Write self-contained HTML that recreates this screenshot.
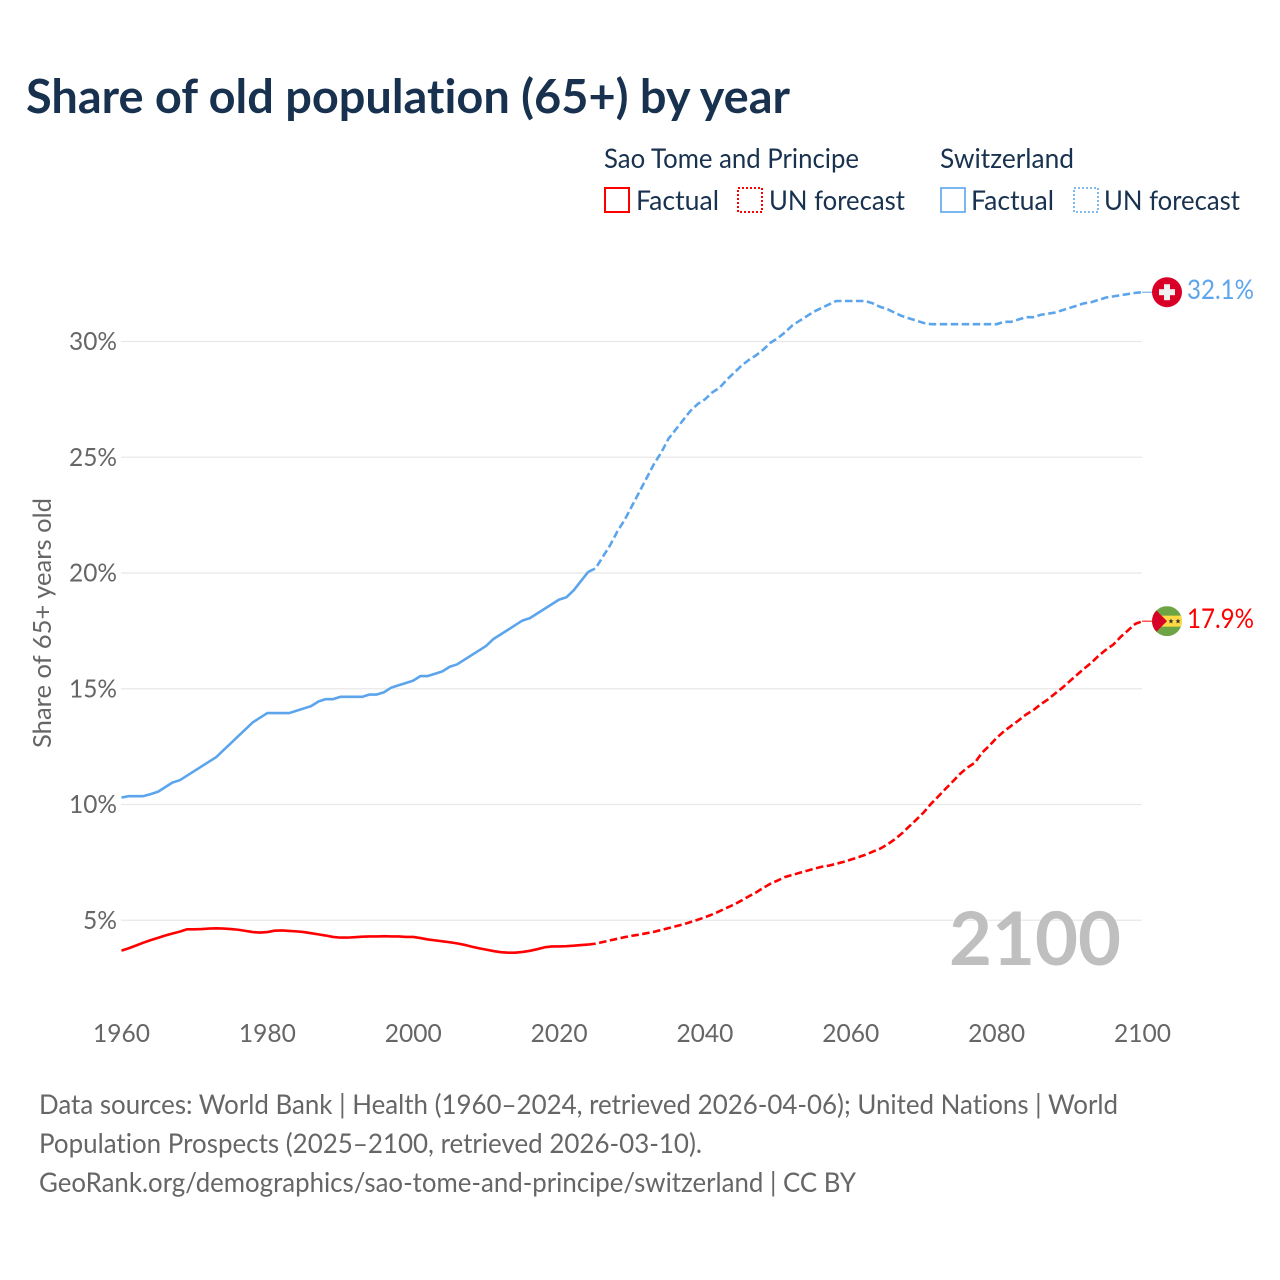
<!DOCTYPE html>
<html lang="en">
<head>
<meta charset="utf-8">
<title>Share of old population (65+) by year</title>
<style>
html,body{margin:0;padding:0;background:#fff;}
body{width:1280px;height:1280px;overflow:hidden;}
svg{display:block;}
text{font-family:"Lato","Carlito","Liberation Sans",sans-serif;font-variant-ligatures:none;}
</style>
</head>
<body>
<svg id="chart" width="1280" height="1280" viewBox="0 0 1280 1280" xmlns="http://www.w3.org/2000/svg">
  <rect width="1280" height="1280" fill="#fff"/>
  <text x="26" y="113" font-size="47" font-weight="700" fill="#17314f" textLength="764" lengthAdjust="spacingAndGlyphs">Share of old population (65+) by year</text>

  <g font-size="27" fill="#18324f">
    <text x="604" y="168" textLength="255" lengthAdjust="spacingAndGlyphs">Sao Tome and Principe</text>
    <rect x="605" y="188" width="24" height="24" fill="none" stroke="#ff0000" stroke-width="2"/>
    <text x="636" y="210" textLength="83" lengthAdjust="spacingAndGlyphs">Factual</text>
    <rect x="738" y="188" width="24" height="24" fill="none" stroke="#ff0000" stroke-width="2" stroke-dasharray="2 2"/>
    <text x="769" y="210" textLength="136" lengthAdjust="spacingAndGlyphs">UN forecast</text>
    <text x="940" y="168" textLength="134" lengthAdjust="spacingAndGlyphs">Switzerland</text>
    <rect x="941" y="188" width="24" height="24" fill="none" stroke="#5ca5ec" stroke-width="1.6"/>
    <text x="971" y="210" textLength="83" lengthAdjust="spacingAndGlyphs">Factual</text>
    <rect x="1074" y="188" width="24" height="24" fill="none" stroke="#5ca5ec" stroke-width="1.6" stroke-dasharray="2 2"/>
    <text x="1104" y="210" textLength="136" lengthAdjust="spacingAndGlyphs">UN forecast</text>
  </g>

  <g id="grid"></g>
  <g id="yticks" font-size="25.5" fill="#666666"></g>
  <g id="xticks" font-size="25.5" fill="#666666"></g>
  <text transform="translate(51 623) rotate(-90)" text-anchor="middle" font-size="25.5" fill="#666666" textLength="250" lengthAdjust="spacingAndGlyphs">Share of 65+ years old</text>
  <text x="949" y="965" font-size="74" font-weight="700" fill="#bfbfbf" textLength="172" lengthAdjust="spacingAndGlyphs">2100</text>
  <g id="series"></g>

  <g id="flag-che">
    <circle cx="0" cy="0" r="15" fill="#d80027"/>
    <rect x="-8" y="-3" width="16" height="6" fill="#f0f0f0"/>
    <rect x="-3" y="-8" width="6" height="16" fill="#f0f0f0"/>
  </g>
  <text id="label-che" x="1187" font-size="27" fill="#5ca5ec" textLength="67" lengthAdjust="spacingAndGlyphs">32.1%</text>

  <clipPath id="stp-clip"><circle cx="0" cy="0" r="15"/></clipPath>
  <g id="flag-stp">
    <g clip-path="url(#stp-clip)">
      <rect x="-15" y="-15" width="30" height="30" fill="#6da544"/>
      <rect x="-15" y="-5.5" width="30" height="11" fill="#ffda44"/>
      <polygon points="-15,-15 0,0 -15,15" fill="#d80027"/>
      <polygon points="4,-2.6 4.8,-0.8 6.6,-0.8 5.1,0.4 5.7,2.4 4,1.2 2.3,2.4 2.9,0.4 1.4,-0.8 3.2,-0.8" fill="#333"/>
      <polygon points="11,-2.6 11.8,-0.8 13.6,-0.8 12.1,0.4 12.7,2.4 11,1.2 9.3,2.4 9.9,0.4 8.4,-0.8 10.2,-0.8" fill="#333"/>
    </g>
  </g>
  <text id="label-stp" x="1187" font-size="27" fill="#ff0000" textLength="67" lengthAdjust="spacingAndGlyphs">17.9%</text>

  <g font-size="27" fill="#666666">
    <text x="39" y="1114" textLength="1079" lengthAdjust="spacingAndGlyphs">Data sources: World Bank | Health (1960–2024, retrieved 2026-04-06); United Nations | World</text>
    <text x="39" y="1153" textLength="663" lengthAdjust="spacingAndGlyphs">Population Prospects (2025–2100, retrieved 2026-03-10).</text>
    <text x="39" y="1192" textLength="817" lengthAdjust="spacingAndGlyphs">GeoRank.org/demographics/sao-tome-and-principe/switzerland | CC BY</text>
  </g>
</svg>
<script>
const yTickValues = [5, 10, 15, 20, 25, 30];
const yTickLabels = ["5%", "10%", "15%", "20%", "25%", "30%"];
const xTickYears = [1960, 1980, 2000, 2020, 2040, 2060, 2080, 2100];
const firstYear = 1960;
// 1960–2024
const cheFactual = [10.3,10.36,10.36,10.36,10.45,10.55,10.75,10.95,11.05,11.25,11.45,11.65,11.85,12.05,12.35,12.65,12.95,13.25,13.55,13.75,13.95,13.95,13.95,13.95,14.05,14.15,14.25,14.45,14.55,14.55,14.65,14.65,14.65,14.65,14.75,14.75,14.85,15.05,15.15,15.25,15.35,15.55,15.55,15.65,15.75,15.95,16.05,16.25,16.45,16.65,16.85,17.15,17.35,17.55,17.75,17.95,18.05,18.25,18.45,18.65,18.85,18.95,19.25,19.65,20.05];
// 2025–2100
const cheForecast = [20.2,20.7,21.2,21.8,22.3,22.9,23.5,24.1,24.7,25.2,25.8,26.2,26.6,27.0,27.3,27.5,27.8,28.0,28.35,28.65,28.95,29.2,29.4,29.65,29.95,30.15,30.4,30.7,30.9,31.1,31.3,31.45,31.6,31.75,31.75,31.75,31.75,31.75,31.65,31.5,31.4,31.25,31.1,31.0,30.9,30.8,30.75,30.75,30.75,30.75,30.75,30.75,30.75,30.75,30.75,30.75,30.85,30.85,30.95,31.05,31.05,31.15,31.2,31.25,31.35,31.45,31.55,31.65,31.7,31.8,31.9,31.95,32.0,32.05,32.1,32.13];
// 1960–2024
const stpFactual = [3.69,3.79,3.91,4.03,4.14,4.24,4.34,4.43,4.51,4.61,4.61,4.62,4.64,4.65,4.64,4.62,4.59,4.54,4.49,4.47,4.49,4.55,4.56,4.54,4.52,4.49,4.44,4.39,4.34,4.28,4.25,4.25,4.27,4.29,4.3,4.3,4.31,4.3,4.3,4.28,4.28,4.23,4.17,4.13,4.09,4.05,4.0,3.94,3.86,3.79,3.73,3.67,3.62,3.6,3.6,3.63,3.68,3.75,3.83,3.87,3.87,3.88,3.9,3.93,3.95];
// 2025–2100
const stpForecast = [3.99,4.06,4.13,4.2,4.27,4.33,4.38,4.44,4.5,4.58,4.66,4.74,4.82,4.92,5.02,5.13,5.25,5.39,5.54,5.68,5.85,6.03,6.2,6.4,6.58,6.72,6.87,6.96,7.05,7.14,7.23,7.31,7.36,7.44,7.52,7.62,7.72,7.83,7.96,8.09,8.27,8.49,8.75,9.05,9.35,9.66,10.03,10.35,10.68,11.0,11.33,11.6,11.8,12.24,12.54,12.88,13.16,13.4,13.63,13.88,14.07,14.32,14.53,14.79,15.04,15.32,15.6,15.87,16.13,16.43,16.69,16.91,17.24,17.52,17.8,17.92];

const NS = "http://www.w3.org/2000/svg";
const xScale = function (year) { return 121.5 + (year - 1960) * 7.293; };
const yScale = function (v) { return 1036 - v * 23.15; };

const gridG = document.getElementById("grid");
const yG = document.getElementById("yticks");
const xG = document.getElementById("xticks");
const seriesG = document.getElementById("series");

yTickValues.forEach(function (v, i) {
  const line = document.createElementNS(NS, "line");
  
  
  line.setAttribute("x1", 121);
  line.setAttribute("x2", 1142);
  line.setAttribute("y1", yScale(v));
  line.setAttribute("y2", yScale(v));
  line.setAttribute("stroke", "#e8e8e8");
  line.setAttribute("stroke-width", "1.2");
  gridG.appendChild(line);

  const t = document.createElementNS(NS, "text");
  
  
  t.setAttribute("x", 117);
  t.setAttribute("y", yScale(v) + 8.5);
  t.setAttribute("text-anchor", "end");
  t.setAttribute("textLength", yTickLabels[i].length === 2 ? 34 : 48);
  t.setAttribute("lengthAdjust", "spacingAndGlyphs");
  t.textContent = yTickLabels[i];
  yG.appendChild(t);
});

xTickYears.forEach(function (year) {
  const t = document.createElementNS(NS, "text");
  
  
  t.setAttribute("x", xScale(year));
  t.setAttribute("y", 1042);
  t.setAttribute("text-anchor", "middle");
  t.setAttribute("textLength", 57);
  t.setAttribute("lengthAdjust", "spacingAndGlyphs");
  t.textContent = String(year);
  xG.appendChild(t);
});

function pointsFor(values, startYear) {
  return values.map(function (v, i) {
    return xScale(startYear + i).toFixed(2) + "," + yScale(v).toFixed(2);
  }).join(" ");
}

const cheFactualLine = document.createElementNS(NS, "polyline");


cheFactualLine.setAttribute("points", pointsFor(cheFactual, firstYear));
cheFactualLine.setAttribute("fill", "none");
cheFactualLine.setAttribute("stroke", "#5ca5ec");
cheFactualLine.setAttribute("stroke-width", "2.6");
cheFactualLine.setAttribute("stroke-linejoin", "round");
seriesG.appendChild(cheFactualLine);

const cheForecastLine = document.createElementNS(NS, "polyline");


cheForecastLine.setAttribute("points", pointsFor([cheFactual[cheFactual.length - 1]].concat(cheForecast), 2024));
cheForecastLine.setAttribute("fill", "none");
cheForecastLine.setAttribute("stroke", "#5ca5ec");
cheForecastLine.setAttribute("stroke-width", "2.6");
cheForecastLine.setAttribute("stroke-dasharray", "7.5 3.5");
seriesG.appendChild(cheForecastLine);

const stpFactualLine = document.createElementNS(NS, "polyline");


stpFactualLine.setAttribute("points", pointsFor(stpFactual, firstYear));
stpFactualLine.setAttribute("fill", "none");
stpFactualLine.setAttribute("stroke", "#ff0000");
stpFactualLine.setAttribute("stroke-width", "2.6");
stpFactualLine.setAttribute("stroke-linejoin", "round");
seriesG.appendChild(stpFactualLine);

const stpForecastLine = document.createElementNS(NS, "polyline");


stpForecastLine.setAttribute("points", pointsFor([stpFactual[stpFactual.length - 1]].concat(stpForecast), 2024));
stpForecastLine.setAttribute("fill", "none");
stpForecastLine.setAttribute("stroke", "#ff0000");
stpForecastLine.setAttribute("stroke-width", "2.6");
stpForecastLine.setAttribute("stroke-dasharray", "7.5 3.5");
seriesG.appendChild(stpForecastLine);

const cheEndY = yScale(cheForecast[cheForecast.length - 1]);
const stpEndY = yScale(stpForecast[stpForecast.length - 1]);

const cheConnector = document.createElementNS(NS, "line");


cheConnector.setAttribute("x1", 1142);
cheConnector.setAttribute("x2", 1153);
cheConnector.setAttribute("y1", cheEndY);
cheConnector.setAttribute("y2", cheEndY);
cheConnector.setAttribute("stroke", "#5ca5ec");
cheConnector.setAttribute("stroke-width", "1");
seriesG.appendChild(cheConnector);

const stpConnector = document.createElementNS(NS, "line");


stpConnector.setAttribute("x1", 1142);
stpConnector.setAttribute("x2", 1153);
stpConnector.setAttribute("y1", stpEndY);
stpConnector.setAttribute("y2", stpEndY);
stpConnector.setAttribute("stroke", "#ff0000");
stpConnector.setAttribute("stroke-width", "1");
seriesG.appendChild(stpConnector);

document.getElementById("flag-che").setAttribute("transform", "translate(1167 " + cheEndY + ")");
document.getElementById("flag-stp").setAttribute("transform", "translate(1167 " + stpEndY + ")");
document.getElementById("label-che").setAttribute("y", cheEndY + 7);
document.getElementById("label-stp").setAttribute("y", stpEndY + 7);
</script>
</body>
</html>
